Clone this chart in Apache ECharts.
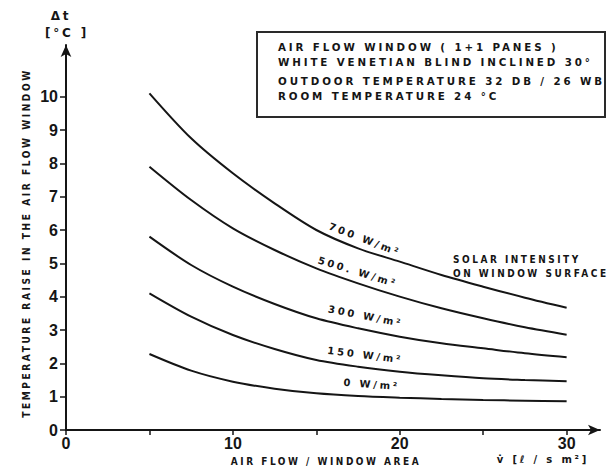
<!DOCTYPE html>
<html>
<head>
<meta charset="utf-8">
<script src="https://cdn.jsdelivr.net/npm/echarts@6/dist/echarts.min.js"></script>
<style>
  html, body { margin: 0; padding: 0; background: #fff; }
  #chart { width: 614px; height: 470px; }
  /* stencil-style lettering: spaced capitals for all annotation text */
  #chart text[style*="DejaVu"] { letter-spacing: 2.8px; }
</style>
</head>
<body>
<div id="chart"></div>
<script>
// Air flow per window area, l/(s m²)
const airFlow = [5, 7.5, 10, 12.5, 15, 17.5, 20, 22.5, 25, 27.5, 30];

// Temperature rise in the air flow window, °C, per solar intensity
const rise700 = [10.1, 8.75, 7.7, 6.8, 6.0, 5.45, 5.05, 4.65, 4.3, 3.97, 3.67];
const rise500 = [7.9, 6.9, 6.05, 5.4, 4.85, 4.4, 4.0, 3.65, 3.35, 3.08, 2.86];
const rise300 = [5.8, 4.95, 4.3, 3.78, 3.35, 3.05, 2.8, 2.6, 2.45, 2.3, 2.18];
const rise150 = [4.1, 3.4, 2.85, 2.43, 2.1, 1.9, 1.75, 1.64, 1.55, 1.5, 1.46];
const rise0   = [2.28, 1.78, 1.45, 1.24, 1.1, 1.02, 0.97, 0.93, 0.9, 0.88, 0.86];

const curveNames = ['700 W/m²', '500. W/m²', '300 W/m²', '150 W/m²', '0 W/m²'];
const curveValues = [rise700, rise500, rise300, rise150, rise0];

// Axis ticks and labels
const xTickValues = [0, 5, 10, 15, 20, 25, 30];
const xLabelValues = [0, 10, 20, 30];
const yTickValues = [0, 1, 2, 3, 4, 5, 6, 7, 8, 9, 10];

const infoLines = [
  'AIR FLOW WINDOW ( 1+1 PANES )',
  'WHITE VENETIAN BLIND INCLINED 30°',
  'OUTDOOR TEMPERATURE 32 DB / 26 WB',
  'ROOM TEMPERATURE 24 °C'
];

const INK = '#151515';
const LETTER_FONT = 'bold 10px "DejaVu Sans"';
const NUM_FONT = '"Liberation Sans Narrow", "Liberation Sans", sans-serif';

// where each curve's caption sits (in data units) and its tilt in degrees
const captionPlacement = [
  { at: [17.8, 5.58], tilt: 21 },
  { at: [17.4, 4.6], tilt: 17 },
  { at: [17.9, 3.27], tilt: 11 },
  { at: [17.9, 2.1], tilt: 7 },
  { at: [18.3, 1.22], tilt: 4 }
];

const chart = echarts.init(document.getElementById('chart'), null, { renderer: 'svg' });

const series = curveValues.map((vals, i) => ({
  type: 'line',
  name: curveNames[i],
  data: airFlow.map((x, k) => [x, vals[k]]),
  smooth: 0.3,
  symbol: 'none',
  lineStyle: { color: INK, width: 2 },
  silent: true
}));

const axisLineStyle = { color: INK, width: 2 };

chart.setOption({
  animation: false,
  backgroundColor: '#fff',
  grid: { left: 66, right: 14, top: 45, bottom: 40, containLabel: false },
  xAxis: {
    type: 'value',
    min: 0,
    max: 32,
    interval: 5,
    splitLine: { show: false },
    axisLine: { onZero: false, lineStyle: axisLineStyle, symbol: ['none', 'arrow'], symbolSize: [8, 12] },
    axisTick: { show: true, length: 5, lineStyle: { color: INK, width: 1.5 }, customValues: xTickValues },
    axisLabel: {
      customValues: xLabelValues,
      margin: 5,
      color: INK,
      fontFamily: NUM_FONT,
      fontWeight: 'bold',
      fontSize: 16
    }
  },
  yAxis: {
    type: 'value',
    min: 0,
    max: 11.55,
    interval: 1,
    splitLine: { show: false },
    axisLine: { onZero: false, lineStyle: axisLineStyle, symbol: ['none', 'arrow'], symbolSize: [8, 12] },
    axisTick: { show: true, length: 6, lineStyle: { color: INK, width: 1.5 }, customValues: yTickValues },
    axisLabel: {
      customValues: yTickValues,
      margin: 8,
      color: INK,
      fontFamily: NUM_FONT,
      fontWeight: 'bold',
      fontSize: 16
    }
  },
  series: series
});

// annotation layer: captions on curves, titles, info box
const deg = Math.PI / 180;
const graphics = [];

captionPlacement.forEach((p, i) => {
  const [px, py] = chart.convertToPixel({ gridIndex: 0 }, p.at);
  graphics.push({
    type: 'text',
    x: px, y: py,
    rotation: -p.tilt * deg,
    silent: true,
    style: { text: curveNames[i], font: LETTER_FONT, fill: INK, align: 'center', verticalAlign: 'bottom' }
  });
});

graphics.push({
  type: 'rect',
  shape: { x: 257, y: 32, width: 348, height: 85 },
  silent: true,
  style: { fill: 'none', stroke: '#2a2a2a', lineWidth: 2 }
});
infoLines.forEach((line, i) => {
  graphics.push({
    type: 'text',
    x: 278, y: [48, 63, 82, 97][i],
    scaleX: 1.03,
    silent: true,
    style: { text: line, font: LETTER_FONT, fill: INK, align: 'left', verticalAlign: 'middle' }
  });
});

graphics.push(
  {
    type: 'text', x: 453, y: 259, scaleX: 0.9, silent: true,
    style: { text: 'SOLAR INTENSITY', font: LETTER_FONT, fill: INK, align: 'left', verticalAlign: 'middle' }
  },
  {
    type: 'text', x: 453, y: 273, scaleX: 0.9, silent: true,
    style: { text: 'ON WINDOW SURFACE', font: LETTER_FONT, fill: INK, align: 'left', verticalAlign: 'middle' }
  },
  {
    type: 'text', x: 26, y: 243, rotation: Math.PI / 2, scaleX: 0.91, silent: true,
    style: { text: 'TEMPERATURE RAISE IN THE AIR FLOW WINDOW', font: LETTER_FONT, fill: INK, align: 'center', verticalAlign: 'middle' }
  },
  {
    type: 'text', x: 61, y: 16, silent: true,
    style: { text: 'Δt', font: 'bold 12px "DejaVu Sans"', fill: INK, align: 'center', verticalAlign: 'middle' }
  },
  {
    type: 'text', x: 67, y: 33, silent: true,
    style: { text: '[°C ]', font: 'bold 12px "DejaVu Sans"', fill: INK, align: 'center', verticalAlign: 'middle' }
  },
  {
    type: 'text', x: 326, y: 461, scaleX: 0.9, silent: true,
    style: { text: 'AIR FLOW / WINDOW AREA', font: LETTER_FONT, fill: INK, align: 'center', verticalAlign: 'middle' }
  },
  {
    type: 'text', x: 543, y: 459, silent: true,
    style: { text: 'v̇ [ℓ / s m²]', font: LETTER_FONT, fill: INK, align: 'center', verticalAlign: 'middle' }
  }
);

chart.setOption({ graphic: graphics });
</script>
</body>
</html>
